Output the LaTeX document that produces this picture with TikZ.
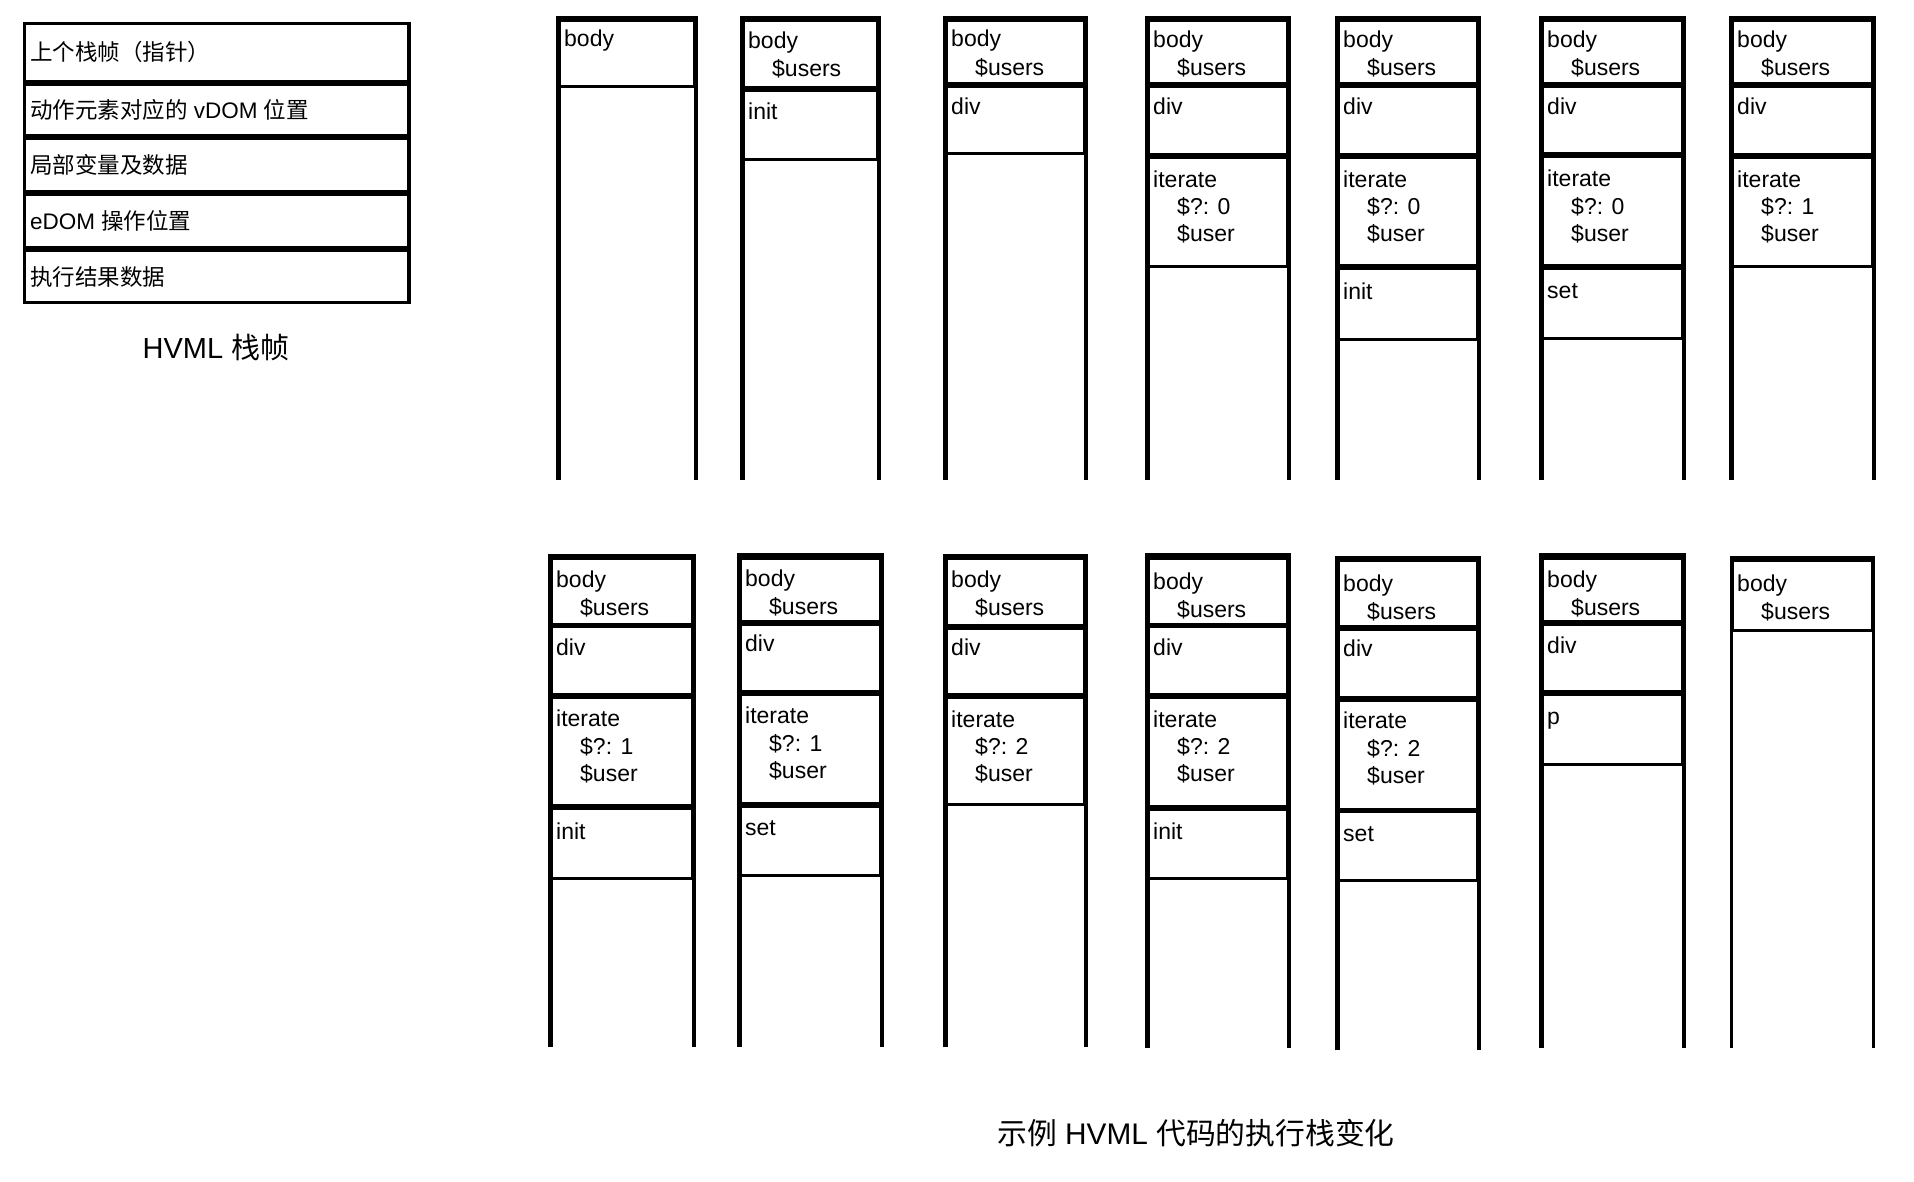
\documentclass[tikz,border=0pt]{standalone}
\usepackage{fontspec}
\setmainfont{Liberation Sans}
\newfontfamily\cjk{Noto Sans CJK SC}
\tikzset{
  cellline/.style={line width=3pt},
  celltext/.style={anchor=base west, inner sep=0pt, font=\fontsize{23}{27}\selectfont},
  legendbox/.style={line width=3.3pt},
  legendtext/.style={anchor=west, inner sep=0pt, font=\fontsize{22.5}{27}\selectfont},
  titletext/.style={inner sep=0pt},
}
\newcommand\colframe[3]{\draw[line width=#3] ({\colL+2.25},#2) -- ({\colL+2.25},#1) -- ({\colR-2.25},#1) -- ({\colR-2.25},#2);}
\newcommand\colcell[2]{\draw[cellline] ({\colL+3.5},#1) rectangle ({\colR-3.5},#2);}
\newcommand\stkT[3]{\node[celltext] (#1) at ({\colL+8},#2) {#3};}
\newcommand\stkI[3]{\node[celltext] (#1) at ({\colL+32},#2) {#3};}
\begin{document}
\begin{tikzpicture}[x=1pt,y=-1pt]
\useasboundingbox (0,0) rectangle (1914,1182);
\fill[white] (0,0) rectangle (1914,1182);

% ---------- legend ----------
\draw[legendbox] (24.3,23.3) rectangle (409,81.5);
\draw[legendbox] (24.3,84.3) rectangle (409,135.5);
\draw[legendbox] (24.3,138.3) rectangle (409,191.5);
\draw[legendbox] (24.3,194.3) rectangle (409,247.5);
\draw[legendbox] (24.3,250.3) rectangle (409,302.5);
\node[legendtext] (lg1) at (30,52.4) {{\cjk 上个栈帧（指针）}};
\node[legendtext] (lg2) at (30,110) {{\cjk 动作元素对应的} vDOM {\cjk 位置}};
\node[legendtext] (lg3) at (30,165) {{\cjk 局部变量及数据}};
\node[legendtext] (lg4) at (30,221) {eDOM {\cjk 操作位置}};
\node[legendtext] (lg5) at (30,276.5) {{\cjk 执行结果数据}};
\node[titletext, font=\fontsize{29}{34}\selectfont] (title1) at (216,348) {HVML {\cjk 栈帧}};

% ---------- top row ----------
\def\colL{556}\def\colR{698}
\colframe{18}{480}{4.5pt}
\colcell{20.5}{86.7}
\stkT{t1a}{46.5}{body}

\def\colL{740}\def\colR{881}
\colframe{18}{480}{4.5pt}
\colcell{20.5}{87.5}
\colcell{90.3}{159.3}
\stkT{t2a}{49}{body}
\stkI{t2b}{77}{\$users}
\stkT{t2c}{119.5}{init}

\def\colL{943}\def\colR{1088}
\colframe{18}{480}{4.5pt}
\colcell{20.5}{83.8}
\colcell{86.6}{154}
\stkT{t3a}{46.5}{body}
\stkI{t3b}{75.5}{\$users}
\stkT{t3c}{115}{div}

\def\colL{1145}\def\colR{1291}
\colframe{18}{480}{4.5pt}
\colcell{20.5}{83.8}
\colcell{86.6}{154.8}
\colcell{157.6}{266.7}
\stkT{t4a}{47.5}{body}
\stkI{t4b}{76}{\$users}
\stkT{t4c}{115}{div}
\stkT{t4d}{187.5}{iterate}
\stkI{t4e}{215}{\$?: 0}
\stkI{t4f}{242}{\$user}

\def\colL{1335}\def\colR{1481}
\colframe{18}{480}{4.5pt}
\colcell{20.5}{83.8}
\colcell{86.6}{154.8}
\colcell{157.6}{266}
\colcell{268.8}{339.3}
\stkT{t5a}{47.5}{body}
\stkI{t5b}{76}{\$users}
\stkT{t5c}{115}{div}
\stkT{t5d}{187.5}{iterate}
\stkI{t5e}{215}{\$?: 0}
\stkI{t5f}{242}{\$user}
\stkT{t5g}{300}{init}

\def\colL{1539}\def\colR{1686}
\colframe{18}{480}{4.5pt}
\colcell{20.5}{83.8}
\colcell{86.6}{153.8}
\colcell{156.6}{265.5}
\colcell{268.3}{338.3}
\stkT{t6a}{47.5}{body}
\stkI{t6b}{76}{\$users}
\stkT{t6c}{115}{div}
\stkT{t6d}{187}{iterate}
\stkI{t6e}{214.5}{\$?: 0}
\stkI{t6f}{241.5}{\$user}
\stkT{t6g}{299}{set}

\def\colL{1729}\def\colR{1876}
\colframe{18}{480}{4.5pt}
\colcell{20.5}{83.8}
\colcell{86.6}{154.8}
\colcell{157.6}{266.7}
\stkT{t7a}{47.5}{body}
\stkI{t7b}{76}{\$users}
\stkT{t7c}{115}{div}
\stkT{t7d}{187.5}{iterate}
\stkI{t7e}{215}{\$?: 1}
\stkI{t7f}{242}{\$user}

% ---------- bottom row ----------
\def\colL{548}\def\colR{696}
\colframe{556}{1047.2}{4.5pt}
\colcell{558.6}{624}
\colcell{626.8}{694.6}
\colcell{697.4}{805.7}
\colcell{808.5}{878.4}
\stkT{b1a}{587.9}{body}
\stkI{b1b}{615.9}{\$users}
\stkT{b1c}{655.2}{div}
\stkT{b1d}{726.6}{iterate}
\stkI{b1e}{754.1}{\$?: 1}
\stkI{b1f}{781.1}{\$user}
\stkT{b1g}{839}{init}

\def\colL{737}\def\colR{884}
\colframe{555.5}{1047.2}{4.5pt}
\colcell{558}{621.7}
\colcell{624.5}{691.7}
\colcell{694.5}{803.9}
\colcell{806.7}{875}
\stkT{b2a}{586.4}{body}
\stkI{b2b}{614.4}{\$users}
\stkT{b2c}{651.6}{div}
\stkT{b2d}{723.8}{iterate}
\stkI{b2e}{751.3}{\$?: 1}
\stkI{b2f}{778.3}{\$user}
\stkT{b2g}{835.6}{set}

\def\colL{943}\def\colR{1088}
\colframe{556}{1047.2}{4.5pt}
\colcell{558.6}{625.6}
\colcell{628.4}{694.6}
\colcell{697.4}{804.6}
\stkT{b3a}{587.9}{body}
\stkI{b3b}{615.9}{\$users}
\stkT{b3c}{655.2}{div}
\stkT{b3d}{727.3}{iterate}
\stkI{b3e}{754.8}{\$?: 2}
\stkI{b3f}{781.8}{\$user}

\def\colL{1145}\def\colR{1291}
\colframe{555.5}{1048.2}{4.5pt}
\colcell{558}{624}
\colcell{626.8}{694.6}
\colcell{697.4}{806.7}
\colcell{809.5}{878.4}
\stkT{b4a}{589.7}{body}
\stkI{b4b}{617.7}{\$users}
\stkT{b4c}{655.2}{div}
\stkT{b4d}{727.3}{iterate}
\stkI{b4e}{754.8}{\$?: 2}
\stkI{b4f}{781.8}{\$user}
\stkT{b4g}{839}{init}

\def\colL{1335}\def\colR{1481}
\colframe{558}{1050.3}{4.5pt}
\colcell{560.6}{626.9}
\colcell{629.7}{697.2}
\colcell{700}{809.1}
\colcell{811.9}{880.2}
\stkT{b5a}{591.5}{body}
\stkI{b5b}{619.5}{\$users}
\stkT{b5c}{656.8}{div}
\stkT{b5d}{728.9}{iterate}
\stkI{b5e}{756.4}{\$?: 2}
\stkI{b5f}{783.4}{\$user}
\stkT{b5g}{841.7}{set}

\def\colL{1539}\def\colR{1686}
\colframe{555.5}{1048.2}{4.5pt}
\colcell{558}{621.7}
\colcell{624.5}{691.7}
\colcell{694.5}{764}
\stkT{b6a}{587.9}{body}
\stkI{b6b}{615.9}{\$users}
\stkT{b6c}{653.4}{div}
\stkT{b6d}{724.1}{p}

\def\colL{1729}\def\colR{1876}
\colframe{557.5}{1048.2}{3pt}
\colcell{560.1}{630}
\stkT{b7a}{591.5}{body}
\stkI{b7b}{619.5}{\$users}

\node[titletext, font=\fontsize{29.8}{36}\selectfont] (title2) at (1196,1133) {{\cjk 示例} HVML {\cjk 代码的执行栈变化}};
\end{tikzpicture}
\end{document}
